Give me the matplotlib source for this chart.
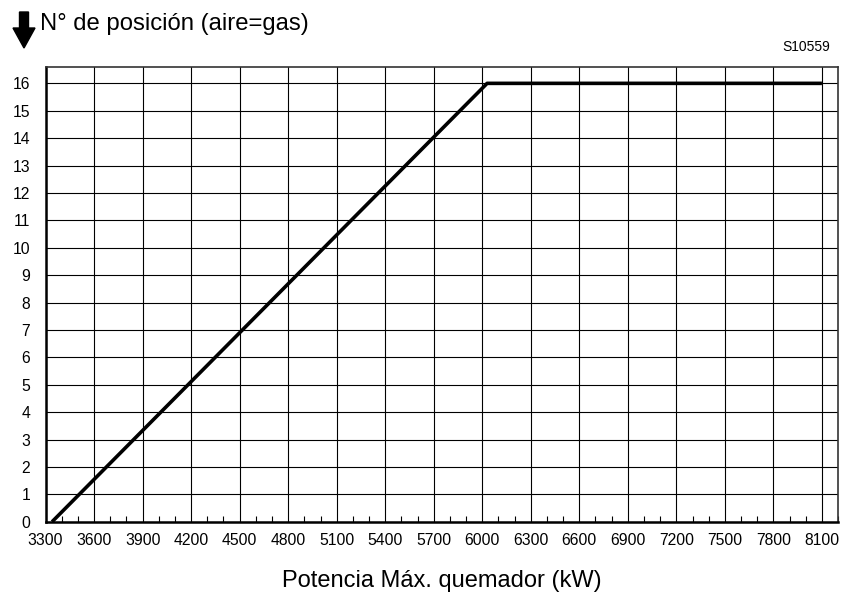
import matplotlib
matplotlib.use("Agg")
import matplotlib.pyplot as plt
from matplotlib.patches import FancyArrow
from matplotlib.transforms import IdentityTransform
from matplotlib.ticker import MultipleLocator

plt.rcParams['font.family'] = ['Liberation Sans', 'DejaVu Sans']

# curve: burner output (kW) -> position number (air=gas)
power_kw = [3340, 6030, 8100]
position = [0, 16, 16]

x_ticks = list(range(3300, 8101, 300))
y_ticks = list(range(0, 17))

fig = plt.figure(figsize=(8.44, 5.97), dpi=100)
ax = fig.add_axes([0.054, 0.126, 0.939, 0.761])

ax.plot(power_kw, position, color='black', lw=2.6, solid_capstyle='butt', zorder=3)

ax.set_xlim(3300, 8200)
ax.set_ylim(0, 16.58)
ax.set_xticks(x_ticks)
ax.set_yticks(y_ticks)
ax.xaxis.set_minor_locator(MultipleLocator(100))
ax.grid(True, which='major', color='black', lw=0.8)

ax.tick_params(axis='both', which='major', length=0, labelsize=11.3)
ax.tick_params(axis='x', which='major', pad=8)
ax.tick_params(axis='y', which='major', pad=11)
ax.tick_params(axis='x', which='minor', direction='in', length=4, width=0.8)
ax.tick_params(axis='y', which='minor', length=0)

for side in ['left', 'bottom']:
    ax.spines[side].set_linewidth(1.8)
for side in ['top', 'right']:
    ax.spines[side].set_linewidth(1.2)
    ax.spines[side].set_color('#333333')

ax.set_xlabel('Potencia Máx. quemador (kW)', fontsize=17, labelpad=16)

fig.text(40 / 844, 1 - 24 / 597, 'N° de posición (aire=gas)', fontsize=17.2,
         ha='left', va='center')
fig.text(830 / 844, 1 - 47 / 597, 'S10559', fontsize=10, ha='right', va='center')

# down arrow next to the axis title
fig.add_artist(FancyArrow(24, 597 - 12, 0, -36, width=9, head_width=22,
                          head_length=20, length_includes_head=True,
                          color='black', transform=IdentityTransform()))

fig.savefig('out.png', dpi=100)
